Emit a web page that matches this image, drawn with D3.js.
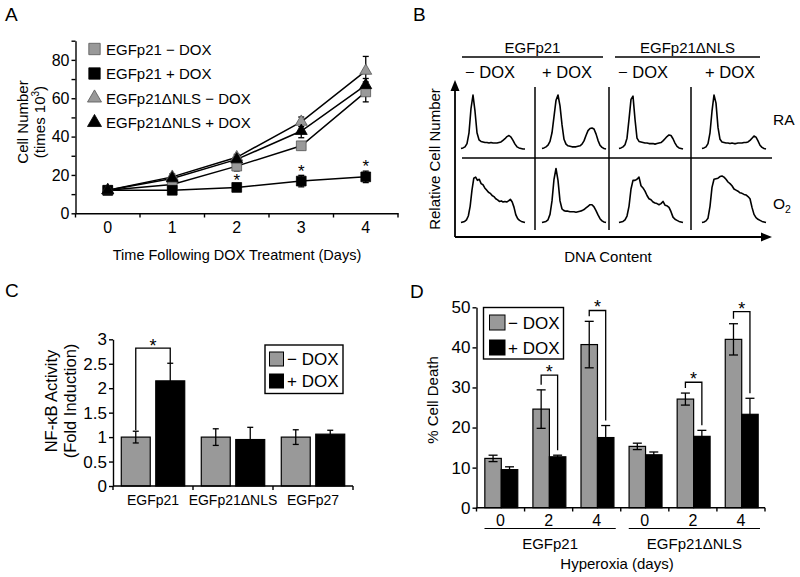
<!DOCTYPE html>
<html><head><meta charset="utf-8">
<script src="https://cdn.jsdelivr.net/npm/d3@7"></script>
<style>
body{margin:0;background:#fff}
svg{display:block}
text{font-family:"Liberation Sans",Arial,Helvetica,sans-serif;fill:#000}
</style>
</head><body>
<svg id="c" width="800" height="577"></svg>
<script>
// ---------------- DATA ----------------
// Panel A
const daysA = [0, 1, 2, 3, 4];
const yTicksA = [0, 10, 20, 30, 40, 50, 60, 70, 80, 90];
const yLabelsA = [0, 20, 40, 60, 80];
const a_p21Minus = [12, 15, 24.6, 35.2, 63.3];
const a_p21MinusErr = [1, 1.5, 2.5, 2, 5.2];
const a_p21Plus = [12, 12, 13.5, 16.8, 19];
const a_p21PlusErr = [1, 1, 1.5, 3, 3];
const a_nlsMinus = [12, 19, 29.2, 47.7, 74.3];
const a_nlsMinusErr = [1, 1.5, 1.5, 2.5, 7.5];
const a_nlsPlus = [12, 18.2, 28.1, 42.9, 66.8];
const a_nlsPlusErr = [1, 1.5, 1.5, 3.5, 3.5];
const a_sigDays = [2, 3, 4];
const a_names = ["EGFp21 \u2212 DOX", "EGFp21 + DOX", "EGFp21\u0394NLS \u2212 DOX", "EGFp21\u0394NLS + DOX"];

// Panel B (relative cell number per DNA-content channel)
const bGroups = ["EGFp21", "EGFp21\u0394NLS"];
const bCols = ["\u2212 DOX", "+ DOX", "\u2212 DOX", "+ DOX"];
const bRA_p21Minus = [1,2,4,10,30,75,100,70,30,17,14,13,12,12,11,12,11,11,11,12,13,16,19,23,25,22,16,9,4,2,1,0,0];
const bRA_p21Plus  = [1,2,4,7,14,30,60,90,100,80,45,18,9,6,5,4,4,4,5,6,9,15,25,34,38,39,37,28,16,7,3,1,0];
const bRA_nlsMinus = [1,2,4,8,20,55,92,98,55,20,14,13,12,11,11,10,10,10,9,10,11,12,15,19,23,26,25,19,11,5,2,1,0];
const bRA_nlsPlus  = [1,2,4,10,30,70,100,85,40,18,13,12,11,11,10,11,10,10,11,11,11,12,12,13,16,20,24,22,15,7,3,1,0];
const bO2_p21Minus = [0,1,2,5,12,30,60,82,84,78,80,72,70,64,60,56,54,50,48,44,42,39,40,38,39,38,40,43,38,28,14,7,4,2,1,0];
const bO2_p21Plus  = [0,1,2,5,15,40,80,100,78,40,25,22,21,21,20,20,20,19,20,21,22,24,27,30,33,33,29,22,14,7,3,1,0];
const bO2_nlsMinus = [0,1,2,5,12,30,62,78,78,80,84,68,64,58,50,44,42,38,36,35,33,35,39,32,31,28,20,10,6,4,2,1,0];
const bO2_nlsPlus  = [0,1,3,8,30,65,80,81,82,85,86,84,80,75,72,68,62,60,58,55,54,52,51,48,44,28,15,9,6,4,2,1,0];

// Panel C
const cGroups = ["EGFp21", "EGFp21\u0394NLS", "EGFp27"];
const cMinus = [1, 1, 1];
const cMinusErr = [0.12, 0.17, 0.15];
const cPlus = [2.15, 0.95, 1.06];
const cPlusErr = [0.36, 0.25, 0.08];
const cTicks = [0, 0.5, 1, 1.5, 2, 2.5, 3];
const cSig = [{group: 0, top: 2.82}];

// Panel D
const dDays = ["0", "2", "4", "0", "2", "4"];
const dGroupLabels = ["EGFp21", "EGFp21\u0394NLS"];
const dMinus = [12.3, 24.6, 40.7, 15.3, 27.1, 42.0];
const dMinusErr = [0.8, 4.8, 5.8, 0.8, 1.5, 3.9];
const dPlus = [9.5, 12.7, 17.5, 13.2, 17.8, 23.3];
const dPlusErr = [0.7, 0.4, 3.0, 0.7, 1.5, 4.0];
const dTicks = [0, 10, 20, 30, 40, 50];
const dSig = [{i: 1, top: 33.1}, {i: 2, top: 49.2}, {i: 4, top: 31.3}, {i: 5, top: 48.9}];

// ---------------- DRAW ----------------
const GRAY = "#999999";
const svg = d3.select("#c");
svg.append("rect").attr("width", 800).attr("height", 577).attr("fill", "#fff");

function label(g, x, y, s, size, anchor) {
  return g.append("text").attr("x", x).attr("y", y).attr("font-size", size)
    .attr("text-anchor", anchor || "middle").text(s);
}
function star(g, x, cy, size) {
  return g.append("text").attr("x", x).attr("y", cy + size * 0.55)
    .attr("font-size", size).attr("text-anchor", "middle").text("*");
}
function errBar(g, x, y0, y1, hw) {
  g.append("line").attr("x1", x).attr("x2", x).attr("y1", y0).attr("y2", y1)
    .attr("stroke", "#000").attr("stroke-width", 1.3);
  [y0, y1].forEach(y => g.append("line").attr("x1", x - hw).attr("x2", x + hw)
    .attr("y1", y).attr("y2", y).attr("stroke", "#000").attr("stroke-width", 1.3));
}

// panel letters
label(svg, 5, 21, "A", 19, "start");
label(svg, 413, 21, "B", 19, "start");
label(svg, 5, 297, "C", 19, "start");
label(svg, 410, 298, "D", 19, "start");

// ===== Panel A =====
{
  const g = svg.append("g");
  const xA = d3.scaleBand().domain(daysA).range([75.5, 398]);
  const yA = d3.scaleLinear().domain([0, 90]).range([213.3, 40.7]);
  const cx = d => xA(d) + xA.bandwidth() / 2;

  const ay = g.append("g").attr("transform", "translate(75.5,0)")
    .call(d3.axisLeft(yA).tickValues(yTicksA).tickSize(4).tickSizeOuter(0).tickPadding(2)
      .tickFormat(d => yLabelsA.includes(d) ? d : ""));
  ay.selectAll("text").attr("font-size", 16).attr("font-family", "Liberation Sans, Arial, sans-serif");
  ay.selectAll("path,line").attr("stroke", "#000").attr("stroke-width", 1.4);

  const ax = g.append("g").attr("transform", "translate(0,213.3)")
    .call(d3.axisBottom(xA).tickSize(0).tickPadding(8).tickSizeOuter(0));
  ax.selectAll("text").attr("font-size", 16).attr("font-family", "Liberation Sans, Arial, sans-serif");
  ax.select("path").attr("stroke", "#000").attr("stroke-width", 1.4);
  daysA.concat([5]).forEach((d, i) => {
    const x = xA.range()[0] + i * xA.step();
    g.append("line").attr("x1", x).attr("x2", x).attr("y1", 213.3).attr("y2", 217.5)
      .attr("stroke", "#000").attr("stroke-width", 1.4);
  });

  label(g, 237, 260, "Time Following DOX Treatment (Days)", 14.5);
  g.append("text").attr("transform", "translate(28,122) rotate(-90)")
    .attr("text-anchor", "middle").attr("font-size", 15).text("Cell Number");
  const yl2 = g.append("text").attr("transform", "translate(45,122) rotate(-90)")
    .attr("text-anchor", "middle").attr("font-size", 15);
  yl2.append("tspan").text("(times 10");
  yl2.append("tspan").attr("font-size", 10).attr("dy", -6).text("3");
  yl2.append("tspan").attr("dy", 6).text(")");

  const series = [
    {v: a_p21Minus, e: a_p21MinusErr, shape: d3.symbolSquare, fill: GRAY, size: 95},
    {v: a_p21Plus, e: a_p21PlusErr, shape: d3.symbolSquare, fill: "#000", size: 95},
    {v: a_nlsMinus, e: a_nlsMinusErr, shape: d3.symbolTriangle, fill: GRAY, size: 62},
    {v: a_nlsPlus, e: a_nlsPlusErr, shape: d3.symbolTriangle, fill: "#000", size: 62}
  ];
  const line = d3.line().x((d, i) => cx(daysA[i])).y(d => yA(d));
  series.forEach(s => g.append("path").attr("d", line(s.v)).attr("fill", "none")
    .attr("stroke", "#000").attr("stroke-width", 1.5));
  series.forEach(s => s.v.forEach((v, i) => errBar(g, cx(daysA[i]), yA(v - s.e[i]), yA(v + s.e[i]), 3)));
  series.forEach(s => s.v.forEach((v, i) => {
    g.append("path").attr("d", d3.symbol().type(s.shape).size(s.size)())
      .attr("transform", `translate(${cx(daysA[i])},${yA(v)})`)
      .attr("fill", s.fill).attr("stroke", s.fill === GRAY ? "#555" : "#000").attr("stroke-width", 0.8);
  }));
  a_sigDays.forEach(d => {
    const i = daysA.indexOf(d);
    star(g, cx(d), yA(a_p21Plus[i] + a_p21PlusErr[i]) - 8, 17);
  });

  // legend
  series.forEach((s, i) => {
    const y = 49 + i * 24.5;
    g.append("path").attr("d", d3.symbol().type(s.shape).size(s.shape === d3.symbolSquare ? 130 : 85)())
      .attr("transform", `translate(94.5,${y})`)
      .attr("fill", s.fill).attr("stroke", s.fill === GRAY ? "#555" : "#000").attr("stroke-width", 0.8);
    label(g, 106, y + 5.5, a_names[i], 15, "start");
  });
}

// ===== Panel B =====
{
  const g = svg.append("g");
  const colBounds = [462, 535, 609, 691, 772];
  const histLeft = [461, 542, 619, 702];
  const rowBase = [149, 222.5];
  const hists = [
    [bRA_p21Minus, bRA_p21Plus, bRA_nlsMinus, bRA_nlsPlus],
    [bO2_p21Minus, bO2_p21Plus, bO2_nlsMinus, bO2_nlsPlus]
  ];
  const grpSpan = [[462, 603], [615, 760]];
  bGroups.forEach((t, i) => {
    const [x0, x1] = grpSpan[i];
    label(g, (x0 + x1) / 2, 52.5, t, 15);
    g.append("line").attr("x1", x0).attr("x2", x1).attr("y1", 57).attr("y2", 57)
      .attr("stroke", "#000").attr("stroke-width", 1.3);
  });
  const colLabelX = [490, 567, 643, 730];
  bCols.forEach((t, i) => label(g, colLabelX[i], 78, t, 16.5));

  g.append("line").attr("x1", 455).attr("x2", 455).attr("y1", 237).attr("y2", 88)
    .attr("stroke", "#000").attr("stroke-width", 1.8);
  g.append("path").attr("d", "M455,80 L450.5,91 L459.5,91 Z").attr("fill", "#000");
  g.append("line").attr("x1", 455).attr("x2", 764).attr("y1", 237).attr("y2", 237)
    .attr("stroke", "#000").attr("stroke-width", 1.8);
  g.append("path").attr("d", "M772,237 L761,232.5 L761,241.5 Z").attr("fill", "#000");

  colBounds.slice(1, 4).forEach(x => g.append("line").attr("x1", x).attr("x2", x)
    .attr("y1", 87).attr("y2", 230).attr("stroke", "#000").attr("stroke-width", 1.5));
  g.append("line").attr("x1", 462).attr("x2", 772).attr("y1", 158).attr("y2", 158)
    .attr("stroke", "#000").attr("stroke-width", 1.5);

  hists.forEach((row, r) => row.forEach((h, c) => {
    const xH = d3.scaleLinear().domain([0, 32]).range([histLeft[c], histLeft[c] + 64]);
    const yH = d3.scaleLinear().domain([0, 100]).range([rowBase[r], rowBase[r] - 54]);
    const n = h.length - 1;
    const xs = d3.scaleLinear().domain([0, n]).range([0, 32]);
    g.append("path").attr("d", d3.line().x((d, i) => xH(xs(i))).y(d => yH(d))(h))
      .attr("fill", "none").attr("stroke", "#000").attr("stroke-width", 1.6)
      .attr("stroke-linejoin", "round");
  }));

  label(g, 773, 125, "RA", 15.5, "start");
  const o2 = g.append("text").attr("x", 773).attr("y", 209).attr("font-size", 15.5);
  o2.append("tspan").text("O");
  o2.append("tspan").attr("font-size", 10.5).attr("dy", 4).text("2");

  g.append("text").attr("transform", "translate(440,159) rotate(-90)")
    .attr("text-anchor", "middle").attr("font-size", 15).text("Relative Cell Number");
  label(g, 608, 262, "DNA Content", 15);
}

// ===== Panel C =====
{
  const g = svg.append("g");
  const xC = d3.scaleBand().domain(cGroups).range([113, 353]);
  const inner = d3.scaleBand().domain(["m", "p"]).range([0, xC.bandwidth()])
    .paddingInner(0.16).paddingOuter(0.24);
  const yC = d3.scaleLinear().domain([0, 3]).range([486, 339.3]);

  cGroups.forEach((k, i) => {
    [["m", cMinus, cMinusErr, GRAY], ["p", cPlus, cPlusErr, "#000"]].forEach(([s, v, e, f]) => {
      const x = xC(k) + inner(s);
      g.append("rect").attr("x", x).attr("y", yC(v[i])).attr("width", inner.bandwidth())
        .attr("height", yC(0) - yC(v[i])).attr("fill", f).attr("stroke", "#000").attr("stroke-width", 1.2);
      errBar(g, x + inner.bandwidth() / 2, yC(v[i] - e[i]), yC(v[i] + e[i]), 3);
    });
  });

  const ay = g.append("g").attr("transform", "translate(113,0)")
    .call(d3.axisLeft(yC).tickValues(cTicks).tickSize(4).tickSizeOuter(0).tickPadding(2)
      .tickFormat(d => d));
  ay.selectAll("text").attr("font-size", 17).attr("font-family", "Liberation Sans, Arial, sans-serif");
  ay.selectAll("path,line").attr("stroke", "#000").attr("stroke-width", 1.4);
  g.append("line").attr("x1", 113).attr("x2", 353).attr("y1", 486).attr("y2", 486)
    .attr("stroke", "#000").attr("stroke-width", 1.4);
  cGroups.concat(["end"]).forEach((k, i) => {
    const x = 113 + i * xC.step();
    g.append("line").attr("x1", x).attr("x2", x).attr("y1", 486).attr("y2", 490)
      .attr("stroke", "#000").attr("stroke-width", 1.4);
  });
  cGroups.forEach(k => label(g, xC(k) + xC.bandwidth() / 2, 505, k, 14));

  g.append("text").attr("transform", "translate(57,401) rotate(-90)")
    .attr("text-anchor", "middle").attr("font-size", 16.5).text("NF-\u03BAB Activity");
  g.append("text").attr("transform", "translate(76,401) rotate(-90)")
    .attr("text-anchor", "middle").attr("font-size", 16.5).text("(Fold Induction)");

  cSig.forEach(s => {
    const k = cGroups[s.group];
    const xl = xC(k) + inner("m") + inner.bandwidth() / 2;
    const xr = xC(k) + inner("p") + inner.bandwidth() / 2;
    const yt = yC(s.top);
    const yl = yC(cMinus[s.group] + cMinusErr[s.group]) - 1;
    const yr = yC(cPlus[s.group] + cPlusErr[s.group]);
    g.append("path").attr("d", `M${xl},${yl} V${yt} H${xr} V${yr}`)
      .attr("fill", "none").attr("stroke", "#000").attr("stroke-width", 1.3);
    star(g, (xl + xr) / 2, yt - 6, 18);
  });

  g.append("rect").attr("x", 265).attr("y", 345).attr("width", 78).attr("height", 48.5)
    .attr("fill", "#fff").attr("stroke", "#000").attr("stroke-width", 1.4);
  [["\u2212 DOX", GRAY], ["+ DOX", "#000"]].forEach(([t, f], i) => {
    const yc = 359 + i * 22;
    g.append("rect").attr("x", 269.5).attr("y", yc - 7).attr("width", 14).attr("height", 14)
      .attr("fill", f).attr("stroke", "#000").attr("stroke-width", 1);
    label(g, 287, yc + 6, t, 17, "start");
  });
}

// ===== Panel D =====
{
  const g = svg.append("g");
  const idx = d3.range(dDays.length);
  const xD = d3.scaleBand().domain(idx).range([476.5, 765]);
  const inner = d3.scaleBand().domain(["m", "p"]).range([0, xD.bandwidth()])
    .paddingInner(0).paddingOuter(0.46).align(0.55);
  const yD = d3.scaleLinear().domain([0, 50]).range([507.7, 307.3]);

  idx.forEach(i => {
    [["m", dMinus, dMinusErr, GRAY], ["p", dPlus, dPlusErr, "#000"]].forEach(([s, v, e, f]) => {
      const x = xD(i) + inner(s);
      g.append("rect").attr("x", x).attr("y", yD(v[i])).attr("width", inner.bandwidth())
        .attr("height", yD(0) - yD(v[i])).attr("fill", f).attr("stroke", "#000").attr("stroke-width", 1.2);
      errBar(g, x + inner.bandwidth() / 2, yD(v[i] - e[i]), yD(v[i] + e[i]), 4.5);
    });
  });

  const ay = g.append("g").attr("transform", "translate(476.5,0)")
    .call(d3.axisLeft(yD).tickValues(dTicks).tickSize(4).tickSizeOuter(0).tickPadding(2));
  ay.selectAll("text").attr("font-size", 17).attr("font-family", "Liberation Sans, Arial, sans-serif");
  ay.selectAll("path,line").attr("stroke", "#000").attr("stroke-width", 1.4);
  g.append("line").attr("x1", 476.5).attr("x2", 765).attr("y1", 507.7).attr("y2", 507.7)
    .attr("stroke", "#000").attr("stroke-width", 1.4);
  idx.concat([6]).forEach(i => {
    const x = 476.5 + i * xD.step();
    g.append("line").attr("x1", x).attr("x2", x).attr("y1", 507.7).attr("y2", 511.5)
      .attr("stroke", "#000").attr("stroke-width", 1.4);
  });
  idx.forEach(i => label(g, xD(i) + xD.bandwidth() / 2, 526, dDays[i], 16));

  dGroupLabels.forEach((t, k) => {
    const x0 = xD(k * 3) + 8, x1 = xD(k * 3 + 2) + xD.bandwidth() - 5;
    g.append("line").attr("x1", x0).attr("x2", x1).attr("y1", 528.5).attr("y2", 528.5)
      .attr("stroke", "#000").attr("stroke-width", 1);
    label(g, (x0 + x1) / 2, 549, t, 15);
  });
  label(g, 617, 569, "Hyperoxia (days)", 15);
  g.append("text").attr("transform", "translate(438,400) rotate(-90)")
    .attr("text-anchor", "middle").attr("font-size", 15).text("% Cell Death");

  dSig.forEach(s => {
    const i = s.i;
    const xl = xD(i) + inner("m") + inner.bandwidth() / 2;
    const xr = xD(i) + inner("p") + inner.bandwidth() / 2;
    const yt = yD(s.top);
    const yl = yD(dMinus[i] + dMinusErr[i]) - 5;
    const yr = yD(dPlus[i] + dPlusErr[i]) - 5;
    g.append("path").attr("d", `M${xl},${Math.max(yl, yt)} V${yt} H${xr} V${yr}`)
      .attr("fill", "none").attr("stroke", "#000").attr("stroke-width", 1.3);
    star(g, (xl + xr) / 2, yt - 7, 18);
  });

  g.append("rect").attr("x", 483.5).attr("y", 307.5).attr("width", 80).attr("height", 51.5)
    .attr("fill", "#fff").attr("stroke", "#000").attr("stroke-width", 1.4);
  [["\u2212 DOX", GRAY], ["+ DOX", "#000"]].forEach(([t, f], i) => {
    const yc = 322.5 + i * 25;
    g.append("rect").attr("x", 489.5).attr("y", yc - 7.5).attr("width", 15.5).attr("height", 15)
      .attr("fill", f).attr("stroke", "#000").attr("stroke-width", 1);
    label(g, 508, yc + 6, t, 17, "start");
  });
}
</script>
</body></html>
